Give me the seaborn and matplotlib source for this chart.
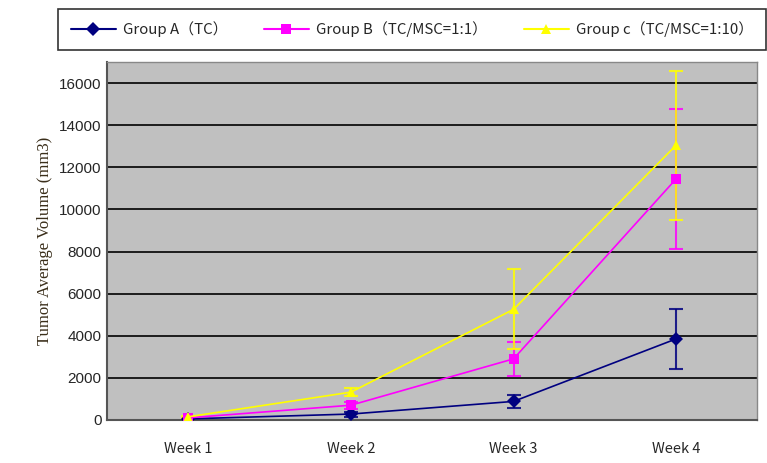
import numpy as np
import pandas as pd
import matplotlib
matplotlib.use('Agg')
import matplotlib.pyplot as plt
import seaborn as sns

weeks = ['Week 1', 'Week 2', 'Week 3', 'Week 4']
groups = ['Group A（TC）', 'Group B（TC/MSC=1:1）', 'Group c（TC/MSC=1:10）']
group_a = [50, 280, 880, 3850]
group_b = [100, 700, 2900, 11450]
group_c = [150, 1320, 5250, 13050]
err_a = [20, 120, 320, 1430]
err_b = [30, 160, 800, 3330]
err_c = [40, 200, 1900, 3530]

colors = ['#000080', '#FF00FF', '#FFFF00']
markers = ['D', 's', '^']

rows = []
for g, vals in zip(groups, [group_a, group_b, group_c]):
    for i, v in enumerate(vals):
        rows.append({'week': i, 'group': g, 'volume': v})
df = pd.DataFrame(rows)

sns.set_style('white')
plt.rcParams['font.family'] = ['Noto Sans CJK SC', 'DejaVu Sans']

fig = plt.figure(figsize=(7.67, 4.63), dpi=100)
ax = fig.add_axes([0.1395, 0.093, 0.848, 0.773])
ax.set_facecolor('#C0C0C0')

for vals, errs, c in zip([group_a, group_b, group_c], [err_a, err_b, err_c], colors):
    ax.errorbar(range(4), vals, yerr=errs, fmt='none', ecolor=c,
                elinewidth=1.5, capsize=5, capthick=1.5, alpha=0.85, zorder=1.5)

sns.lineplot(data=df, x='week', y='volume', hue='group', style='group',
             palette=colors, markers=markers, dashes=False, markersize=7,
             linewidth=1.2, markeredgewidth=0, ax=ax, legend=False, zorder=3)

ax.set_xlim(-0.5, 3.5)
ax.set_ylim(0, 17000)
ax.set_yticks(np.arange(0, 16001, 2000))
ax.set_yticklabels([str(v) for v in range(0, 16001, 2000)],
                   family='Liberation Sans', fontsize=11)
ax.yaxis.grid(True, color='black', linewidth=1.2)
ax.set_axisbelow(True)
ax.set_xticks(range(4))
ax.set_xticklabels(weeks, fontsize=10.5)
ax.tick_params(axis='x', length=0, pad=16)
ax.tick_params(axis='y', length=0, pad=4)
ax.set_xticks([0.5, 1.5, 2.5], minor=True)
ax.tick_params(axis='x', which='minor', direction='in', length=5, color='black')
ax.set_xlabel('')
ax.set_ylabel('Tumor Average Volume (mm3)', family='Liberation Serif',
              fontsize=12, color='#3a2e1a')

for s in ['top', 'right']:
    ax.spines[s].set_color('#888888')
    ax.spines[s].set_linewidth(1.0)
for s in ['left', 'bottom']:
    ax.spines[s].set_color('#555555')
    ax.spines[s].set_linewidth(1.5)

handles = [plt.Line2D([], [], color=c, marker=m, markersize=7, linewidth=1.5,
                      markeredgewidth=0) for c, m in zip(colors, markers)]
leg = fig.legend(handles, groups, loc='upper left', bbox_to_anchor=(0.066, 0.997),
                 ncol=3, frameon=True, fancybox=False, fontsize=10.8,
                 handlelength=3.0, handletextpad=0.5, columnspacing=2.4,
                 borderpad=0.85)
leg.get_frame().set_edgecolor('black')
leg.get_frame().set_linewidth(1.2)

fig.savefig('out.png', dpi=100)
